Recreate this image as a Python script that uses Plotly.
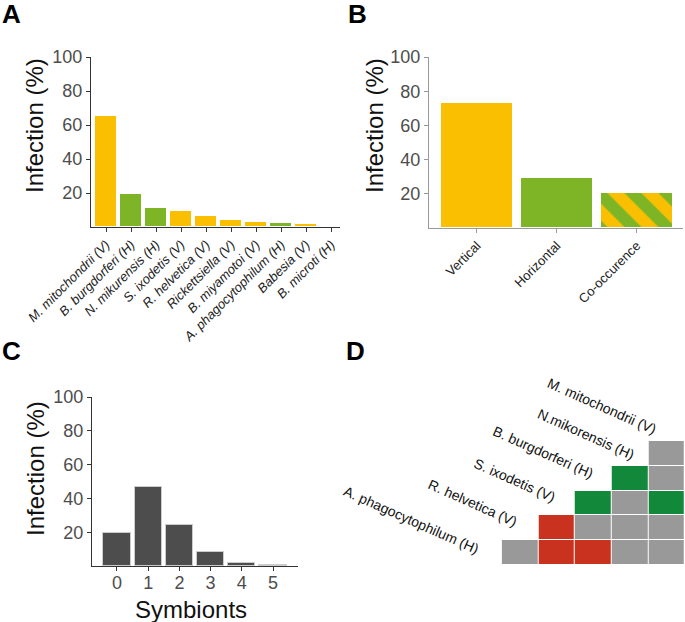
import plotly.graph_objs as go

# panel A: symbiont prevalence
species = ['M. mitochondrii (V)', 'B. burgdorferi (H)', 'N. mikurensis (H)', 'S. ixodetis (V)',
           'R. helvetica (V)', 'Rickettsiella (V)', 'B. miyamotoi (V)', 'A. phagocytophilum (H)',
           'Babesia (V)', 'B. microti (H)']
species_pct = [65.1, 19.6, 11.4, 9.6, 6.6, 4.3, 3.1, 2.2, 1.8, 0.8]
species_mode = ['V', 'H', 'H', 'V', 'V', 'V', 'V', 'H', 'V', 'H']

# panel B: transmission mode
modes = ['Vertical', 'Horizontal', 'Co-occurence']
modes_pct = [73.1, 29.4, 20.6]

# panel C: number of symbionts per tick
n_symb = ['0', '1', '2', '3', '4', '5']
n_symb_pct = [19.8, 46.7, 24.3, 8.3, 1.5, 0.7]

# panel D: pairwise associations (0 = none, 1 = positive, 2 = negative)
d_cols = ['R. helvetica', 'S. ixodetis', 'B. burgdorferi', 'N. mikurensis', 'M. mitochondrii']
d_rows = ['A. phagocytophilum (H)', 'R. helvetica (V)', 'S. ixodetis (V)',
          'B. burgdorferi (H)', 'N.mikorensis (H)']
d_z = [
    [0, 2, 2, 0, 0],
    [None, 2, 0, 0, 0],
    [None, None, 1, 0, 1],
    [None, None, None, 1, 0],
    [None, None, None, None, 0],
]
d_labels = ['A. phagocytophilum (H)', 'R. helvetica (V)', 'S. ixodetis (V)',
            'B. burgdorferi (H)', 'N.mikorensis (H)', 'M. mitochondrii (V)']
# bottom-right corner of each rotated label, in pixels
d_label_px = [(484, 560), (523, 532), (560, 508), (598, 484), (639, 465), (661, 440)]

YELLOW = '#FABF00'
GREEN = '#7DB526'
FONT = 'Liberation Sans, Arial, sans-serif'
W, H = 685, 622


def px_x(p):
    return p / W


def px_y(p):
    return 1 - p / H


yellow_green = {'V': YELLOW, 'H': GREEN}

traces = [
    go.Bar(x=species, y=species_pct, marker=dict(color=[yellow_green[m] for m in species_mode],
                                                  line=dict(color='white', width=1)),
           width=0.9, xaxis='x', yaxis='y', hoverinfo='skip'),
    go.Bar(x=modes[:2], y=modes_pct[:2],
           marker=dict(color=[YELLOW, GREEN], line=dict(color='white', width=1)),
           width=0.9, xaxis='x2', yaxis='y2', hoverinfo='skip'),
    go.Bar(x=modes[2:], y=modes_pct[2:],
           marker=dict(color=YELLOW, line=dict(color='white', width=1),
                       pattern=dict(shape='\\', fgcolor=GREEN, bgcolor=YELLOW, fgopacity=1,
                                    size=24, solidity=0.5, fillmode='replace')),
           width=0.9, xaxis='x2', yaxis='y2', hoverinfo='skip'),
    go.Bar(x=n_symb, y=n_symb_pct, marker=dict(color='#4D4D4D', line=dict(color='#CCCCCC', width=1)),
           width=0.875, xaxis='x3', yaxis='y3', hoverinfo='skip'),
    go.Heatmap(z=d_z, x=list(range(5)), y=list(range(5)), zmin=0, zmax=2,
               colorscale=[[0, '#999999'], [0.333, '#999999'], [0.333, '#11883A'],
                           [0.667, '#11883A'], [0.667, '#C8321E'], [1, '#C8321E']],
               showscale=False, xgap=1, ygap=1, xaxis='x4', yaxis='y4', hoverinfo='skip'),
]

tick_font = dict(family=FONT, size=18, color='#4D4D4D')
yax = dict(range=[0, 100], tickvals=[20, 40, 60, 80, 100], ticks='outside', ticklen=4,
           showline=True, linewidth=1, showgrid=False, zeroline=False, tickfont=tick_font,
           automargin=False)

layout = go.Layout(
    template='none',
    width=W, height=H, margin=dict(l=0, r=0, t=0, b=0, pad=0, autoexpand=False),
    paper_bgcolor='white', plot_bgcolor='white', showlegend=False, bargap=0, barmode='overlay',
    font=dict(family=FONT),
    xaxis=dict(domain=[px_x(91), px_x(340)], range=[-0.6, 9.35], tickangle=-45, ticks='outside',
               ticklen=4, showline=True, linecolor='#333', tickcolor='#333', showgrid=False,
               tickfont=dict(family=FONT, size=13, color='#222', style='italic'),
               anchor='y', automargin=False),
    yaxis=dict(yax, domain=[px_y(227), px_y(57)], linecolor='#333', tickcolor='#333', anchor='x'),
    xaxis2=dict(domain=[px_x(429), px_x(683)], range=[-0.6, 2.58], tickangle=-45, ticks='outside',
                ticklen=4, showline=True, linecolor='#999', tickcolor='#999', showgrid=False,
                tickfont=dict(family=FONT, size=13, color='#222'), anchor='y2', automargin=False,
                categoryorder='array', categoryarray=modes),
    yaxis2=dict(yax, domain=[px_y(228), px_y(57)], linecolor='#999', tickcolor='#999', anchor='x2'),
    xaxis3=dict(domain=[px_x(92), px_x(298)], range=[-0.8, 5.8], type='category', ticks='outside',
                ticklen=4, showline=True, linecolor='#333', tickcolor='#333', showgrid=False,
                tickfont=tick_font, anchor='y3', automargin=False, ticklabelstandoff=-4),
    yaxis3=dict(yax, domain=[px_y(566), px_y(397)], linecolor='#333', tickcolor='#333', anchor='x3'),
    xaxis4=dict(domain=[px_x(501.7), 1], range=[-0.5, 4.5], visible=False, anchor='y4'),
    yaxis4=dict(domain=[px_y(565), px_y(441)], range=[-0.5, 4.5], visible=False, anchor='x4'),
)

fig = go.Figure(data=traces, layout=layout)

# panel letters
for letter, cx, cy in [('A', 0, 14), ('B', 346, 14), ('C', 0, 351), ('D', 344, 351)]:
    fig.add_annotation(text='<b>%s</b>' % letter, xref='paper', yref='paper', x=px_x(cx), y=px_y(cy),
                       xanchor='left', yanchor='middle', showarrow=False,
                       font=dict(family=FONT, size=26, color='black'))

# axis titles
for cx, cy in [(35, 126), (375, 126), (35, 469)]:
    fig.add_annotation(text='Infection (%)', xref='paper', yref='paper', x=px_x(cx), y=px_y(cy),
                       xanchor='center', yanchor='middle', textangle=-90, showarrow=False,
                       font=dict(family=FONT, size=24, color='#111'))
fig.add_annotation(text='Symbionts', xref='paper', yref='paper', x=px_x(191), y=px_y(609),
                   xanchor='center', yanchor='middle', showarrow=False,
                   font=dict(family=FONT, size=24, color='#111'))

# panel D labels
for lab, (lx, ly) in zip(d_labels, d_label_px):
    fig.add_annotation(text=lab, xref='paper', yref='paper', x=px_x(lx), y=px_y(ly),
                       xanchor='right', yanchor='bottom', textangle=24, showarrow=False,
                       font=dict(family=FONT, size=14, color='#111'))

fig.write_html('out.html', config={'displayModeBar': False},
               post_script="document.body.style.margin='0';")
